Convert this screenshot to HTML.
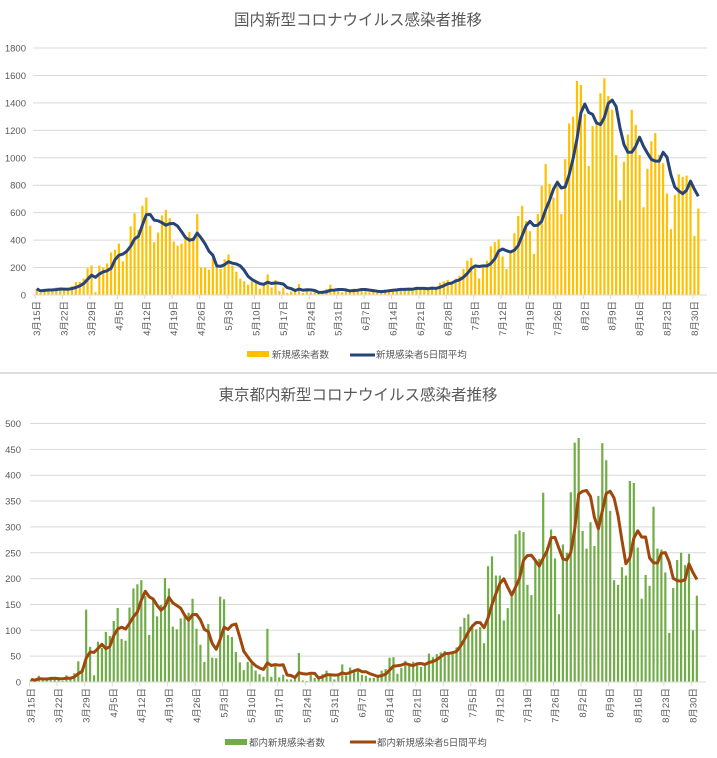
<!DOCTYPE html>
<html><head><meta charset="utf-8">
<style>
body{margin:0;background:#fff;width:717px;height:758px;overflow:hidden}
svg{display:block;font-family:"Liberation Sans","Noto Sans CJK JP",sans-serif}
</style></head>
<body>
<svg id="s" width="717" height="758">
<rect x="0" y="0" width="717" height="758" fill="#fff"/>
<line x1="0" y1="373" x2="717" y2="373" stroke="#d0d0d0" stroke-width="1.5"/>
<text x="358" y="25" text-anchor="middle" font-size="15.5" fill="#595959">国内新型コロナウイルス感染者推移</text>
<text x="358" y="400" text-anchor="middle" font-size="15.5" fill="#595959">東京都内新型コロナウイルス感染者推移</text>
<g>
<rect x="247" y="351" width="22" height="6" fill="#ffc000"/>
<text x="272" y="358" font-size="9.5" fill="#595959">新規感染者数</text>
<line x1="350" y1="355" x2="375" y2="355" stroke="#264478" stroke-width="3"/>
<text x="376" y="358" font-size="9.5" fill="#595959">新規感染者5日間平均</text>
</g>
<g>
<rect x="225" y="739" width="22" height="6" fill="#70ad47"/>
<text x="249" y="746" font-size="9.5" fill="#595959">都内新規感染者数</text>
<line x1="350" y1="742" x2="376" y2="742" stroke="#9e480e" stroke-width="3"/>
<text x="377" y="746" font-size="9.5" fill="#595959">都内新規感染者5日間平均</text>
</g>
</svg>
<script>
var startMonth = 3, startDay = 15;
var nationalDaily = [
45,15,40,45,40,55,40,
35,40,65,95,95,120,195,
215,20,215,200,230,310,330,
375,245,330,500,595,475,650,
710,505,385,455,580,620,560,
390,360,375,410,460,420,590,
200,200,185,270,200,190,260,
295,215,170,120,100,75,100,
90,45,80,150,55,110,30,
55,15,25,40,80,15,30,
20,20,10,20,45,75,30,
30,20,30,40,45,40,45,
30,20,25,20,30,40,40,
45,30,50,40,50,40,60,
50,40,40,60,50,90,100,
110,85,120,140,190,250,270,
210,120,210,250,355,385,405,
280,190,305,450,575,650,540,
465,300,590,795,955,810,710,
835,590,990,1250,1300,1560,1530,
1320,940,1230,1250,1470,1580,1450,
1350,1020,690,970,1170,1350,1240,
1020,640,920,1120,1180,1020,960,
740,480,730,880,860,870,810,
430,630];
var tokyoDaily = [
5,2,12,5,5,10,5,
8,2,13,8,17,40,25,
140,68,13,78,66,97,89,
118,143,83,80,144,181,189,
197,166,91,161,127,149,201,
181,107,102,123,132,134,161,
103,72,39,112,47,46,165,
160,91,87,58,38,23,39,
36,22,15,10,103,10,30,
9,14,5,5,10,56,3,
2,14,8,11,15,22,14,
5,13,34,12,28,20,26,
14,12,8,8,12,22,25,
47,48,16,27,41,35,39,
35,29,31,55,48,54,57,
60,58,54,67,107,124,131,
111,102,106,75,224,243,206,
206,119,143,165,286,293,290,
188,168,237,238,366,260,295,
239,131,266,250,367,463,472,
292,258,309,263,360,462,429,
331,197,188,222,206,389,385,
260,161,207,186,339,258,256,
212,95,182,236,250,226,248,
100,167];
var nationalTicks = [0,200,400,600,800,1000,1200,1400,1600,1800];
var tokyoTicks = [0,50,100,150,200,250,300,350,400,450,500];

var NS = "http://www.w3.org/2000/svg";
var svg = document.getElementById("s");
function mk(tag, attrs, parent){
  var e = document.createElementNS(NS, tag);
  for (var k in attrs) e.setAttribute(k, attrs[k]);
  (parent||svg).appendChild(e); return e;
}
function movingAvg(a){
  var out=[]; for(var i=0;i<a.length;i++){var s=0,n=0;for(var j=Math.max(0,i-4);j<=i;j++){s+=a[j];n++;}out.push(s/n);} return out;
}
function dateLabel(i){
  var mdays={3:31,4:30,5:31,6:30,7:31,8:31};
  var m=startMonth,d=startDay+i;
  while(d>mdays[m]){d-=mdays[m];m++;}
  return m+"月"+d+"日";
}
function drawChart(cfg){
  var g = mk("g",{});
  
  
  function xs(i){ return cfg.x0 + i*cfg.dx; }
  function ys(v){ return cfg.y0 - (v/cfg.ymax)*(cfg.y0-cfg.y1); }
  cfg.ticks.forEach(function(t){
    var ln = mk("line",{x1:cfg.gx0,x2:cfg.gx1,y1:ys(t),y2:ys(t),stroke:"#d9d9d9","stroke-width":1},g);
    
    
    var tx = mk("text",{x:cfg.lx,y:ys(t)+3.5,"text-anchor":"end","font-size":9.5,fill:"#595959"},g);
    
    
    tx.textContent = t;
  });
  var n = cfg.data.length;
  for (var i=0;i<n;i++){
    var v = cfg.data[i];
    var b = mk("rect",{x:xs(i)-1.1,y:ys(v),width:2.2,height:Math.max(0,cfg.y0-ys(v)),fill:cfg.barColor},g);
    
    
  }
  for (var i=0;i<n;i+=7){
    var lx = xs(i)+3.5, ly = cfg.y0+6;
    var tk = mk("line",{x1:xs(i)-1.5,x2:xs(i)-1.5,y1:cfg.y0,y2:cfg.y0+4,stroke:"#d9d9d9"},g);
    
    
    var t = mk("text",{x:lx,y:ly,"text-anchor":"end","font-size":9.5,fill:"#595959",transform:"rotate(-90 "+lx+" "+ly+")"},g);
    
    
    t.textContent = dateLabel(i);
  }
  var ax = mk("line",{x1:cfg.gx0,x2:cfg.gx1,y1:cfg.y0,y2:cfg.y0,stroke:"#d9d9d9"},g);
  
  
  var avg = movingAvg(cfg.data);
  var d = avg.map(function(v,i){return (i?"L":"M")+xs(i).toFixed(1)+","+ys(v).toFixed(1);}).join("");
  var p = mk("path",{d:d,fill:"none",stroke:cfg.lineColor,"stroke-width":3,"stroke-linejoin":"round"},g);
  
  
}
drawChart({name:"national-chart",data:nationalDaily,ticks:nationalTicks,ymax:1800,x0:36.7,dx:3.915,y0:295,y1:48,gx0:33,gx1:707,lx:26,barColor:"#ffc000",lineColor:"#264478"});
drawChart({name:"tokyo-chart",data:tokyoDaily,ticks:tokyoTicks,ymax:500,x0:31,dx:3.94,y0:682,y1:423.5,gx0:30,gx1:706,lx:21,barColor:"#70ad47",lineColor:"#9e480e"});
</script>
</body></html>
